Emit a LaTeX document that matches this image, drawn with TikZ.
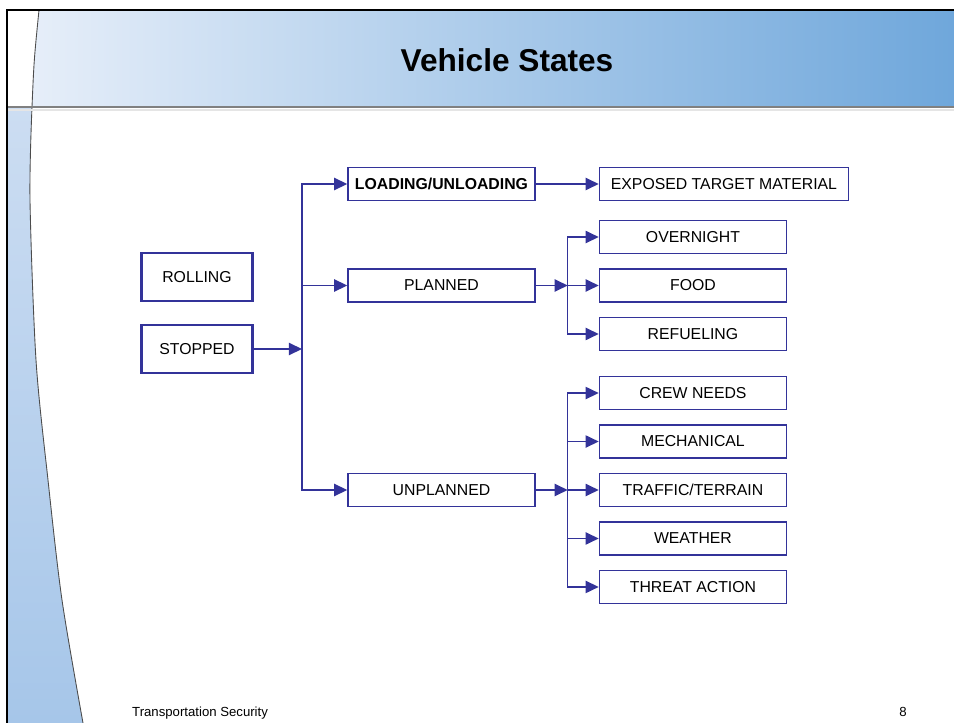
\documentclass[tikz,border=0pt]{standalone}
\usepackage{fontspec}
\setmainfont{Liberation Sans}
\usepackage{tikz}
\usetikzlibrary{positioning,arrows.meta}
\definecolor{boxblue}{HTML}{333399}
\definecolor{headlight}{HTML}{E6EEF9}
\definecolor{headdark}{HTML}{6FA7DB}
\definecolor{striptop}{HTML}{CCDDF2}
\definecolor{stripbot}{HTML}{A6C6E9}
\tikzstyle{state}=[rectangle, draw=boxblue, line width=0.85pt, fill=white,
        minimum width=3.74cm, minimum height=0.66cm, inner sep=1pt,
        text=black, font=\fontsize{9}{10}\selectfont]
\tikzstyle{mode}=[state, line width=1.7pt, minimum width=2.24cm, minimum height=0.96cm]
\tikzstyle{myarrow}=[-{Triangle[length=7.5pt,width=7pt]}, draw=boxblue, line width=0.85pt]

\begin{document}
\begin{tikzpicture}[x=0.02cm, y=-0.02cm, node distance=0.28cm]
	\useasboundingbox (0,0) rectangle (954,723);
	\fill[white] (0,0) rectangle (954,723);

	% slide frame
	\shade[left color=headlight, right color=headdark]
		(39,10) -- (954,10) -- (954,107) -- (32,107) .. controls (34,60) .. (39,10) -- cycle;
	\shade[top color=striptop, bottom color=stripbot]
		(7,107) -- plot[smooth] coordinates {(32,107) (30,200) (36,360) (48,480) (62,600) (83,723)}
		-- (7,723) -- cycle;
	\draw[black!70, line width=0.5pt] (39,10) .. controls (34,60) .. (32,107);
	\draw[black!70, line width=0.5pt] plot[smooth] coordinates {(32,107) (30,200) (36,360) (48,480) (62,600) (83,723)};
	\draw[black!10, line width=1.2pt] (7,110) -- (954,110);
	\draw[black!50, line width=1.1pt] (7,107) -- (954,107);
	\draw[black, line width=1.2pt] (7,723) -- (7,10) -- (954,10);

	\node (Title) at (507,60) {\fontsize{18}{20}\selectfont\bfseries Vehicle States};
	\node (Footer) [anchor=base west, font=\fontsize{7.5}{9}\selectfont] at (126,716) {Transportation Security};
	\node (PageNo) [anchor=base, font=\fontsize{7.5}{9}\selectfont] at (903,716) {8};

	% vehicle modes
	\node (ROLLING) [mode] at (197,277) {ROLLING};
	\node (STOPPED) [mode] at (197,349) {STOPPED};

	% kinds of stop
	\node (LOADING) [state] at (441.5,184) {\textbf{LOADING/UNLOADING}};
	\node (PLANNED) [state] at (441.5,285.5) {PLANNED};
	\node (UNPLANNED) [state] at (441.5,490) {UNPLANNED};

	\node (EXPOSED) [state, minimum width=4.98cm, right=1.26cm of LOADING] {EXPOSED TARGET MATERIAL};

	\node (FOOD) [state, right=1.26cm of PLANNED] {FOOD};
	\node (OVERNIGHT) [state, above=of FOOD] {OVERNIGHT};
	\node (REFUELING) [state, below=of FOOD] {REFUELING};

	\node (TRAFFIC) [state, right=1.26cm of UNPLANNED] {TRAFFIC/TERRAIN};
	\node (MECHANICAL) [state, above=of TRAFFIC] {MECHANICAL};
	\node (CREW) [state, above=of MECHANICAL] {CREW NEEDS};
	\node (WEATHER) [state, below=of TRAFFIC] {WEATHER};
	\node (THREAT) [state, below=of WEATHER] {THREAT ACTION};

	\coordinate (StopFork) at (302,349);
	\coordinate (PlanFork) at ([xshift=0.64cm]PLANNED.east);
	\coordinate (UnplanFork) at ([xshift=0.64cm]UNPLANNED.east);

\draw[myarrow] (STOPPED) -- (StopFork);
\draw[myarrow] (StopFork) |- (LOADING);
\draw[myarrow] (StopFork) |- (PLANNED);
\draw[myarrow] (StopFork) |- (UNPLANNED);

\draw[myarrow] (LOADING) -- (EXPOSED);

\draw[myarrow] (PLANNED) -- (PlanFork);
\foreach \n in {OVERNIGHT,FOOD,REFUELING}
	\draw[myarrow] (PlanFork) |- (\n);

\draw[myarrow] (UNPLANNED) -- (UnplanFork);
\foreach \n in {CREW,MECHANICAL,TRAFFIC,WEATHER,THREAT}
	\draw[myarrow] (UnplanFork) |- (\n);

\end{tikzpicture}
\end{document}
